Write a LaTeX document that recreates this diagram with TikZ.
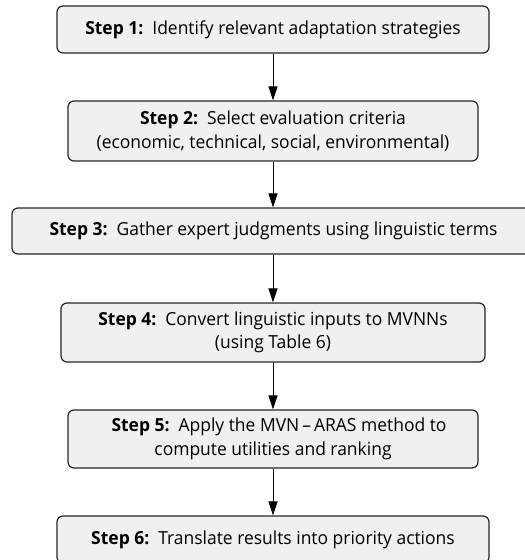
\documentclass[tikz,border=0pt]{standalone}
\usepackage{fontspec}
\setmainfont[FakeStretch=0.97]{Open Sans}
\usetikzlibrary{arrows.meta}
\definecolor{boxfill}{HTML}{F0F0F0}
\definecolor{boxline}{HTML}{262626}
\tikzset{
  stepbox/.style={draw=boxline, fill=boxfill, line width=1.2pt, rounded corners=6pt,
    align=center, inner sep=0pt, font=\fontsize{18}{23.5}\selectfont},
  flow/.style={draw=black, line width=1pt, -{Triangle[length=14pt,width=9pt]}}
}
\begin{document}
\begin{tikzpicture}[x=1pt,y=-1pt]
\useasboundingbox (0,0) rectangle (525,560);
\clip (0,0) rectangle (525,560);
\node[stepbox, minimum width=432pt, minimum height=47pt] (s1) at (273,29.5)
  {\textbf{Step 1:}\ \ Identify relevant adaptation strategies};
\node[stepbox, minimum width=410pt, minimum height=60pt] (s2) at (273,131)
  {\textbf{Step 2:}\ \ Select evaluation criteria\\(economic, technical, social, environmental)};
\node[stepbox, minimum width=523pt, minimum height=46pt] (s3) at (273.5,231)
  {\textbf{Step 3:}\ \ Gather expert judgments using\ linguistic terms};
\node[stepbox, minimum width=424pt, minimum height=59pt] (s4) at (273,332.5)
  {\textbf{Step 4:}\ \ Convert linguistic inputs to MVNNs\\(using Table 6)};
\node[stepbox, minimum width=410pt, minimum height=58pt] (s5) at (273,439)
  {\hspace*{12pt}\textbf{Step 5:}\ \ Apply the MVN\,–\,ARAS method to\\compute utilities and ranking};
\node[stepbox, minimum width=432pt, minimum height=47pt] (s6) at (273,539.5)
  {\textbf{Step 6:}\ \ Translate results into priority actions};
\draw[flow] (s1.south) -- (s2.north);
\draw[flow] (s2.south) -- (s2.south |- s3.north);
\draw[flow] (s3.south -| s2.south) -- (s4.north);
\draw[flow] (s4.south) -- (s5.north);
\draw[flow] (s5.south) -- (s6.north);
\end{tikzpicture}
\end{document}
